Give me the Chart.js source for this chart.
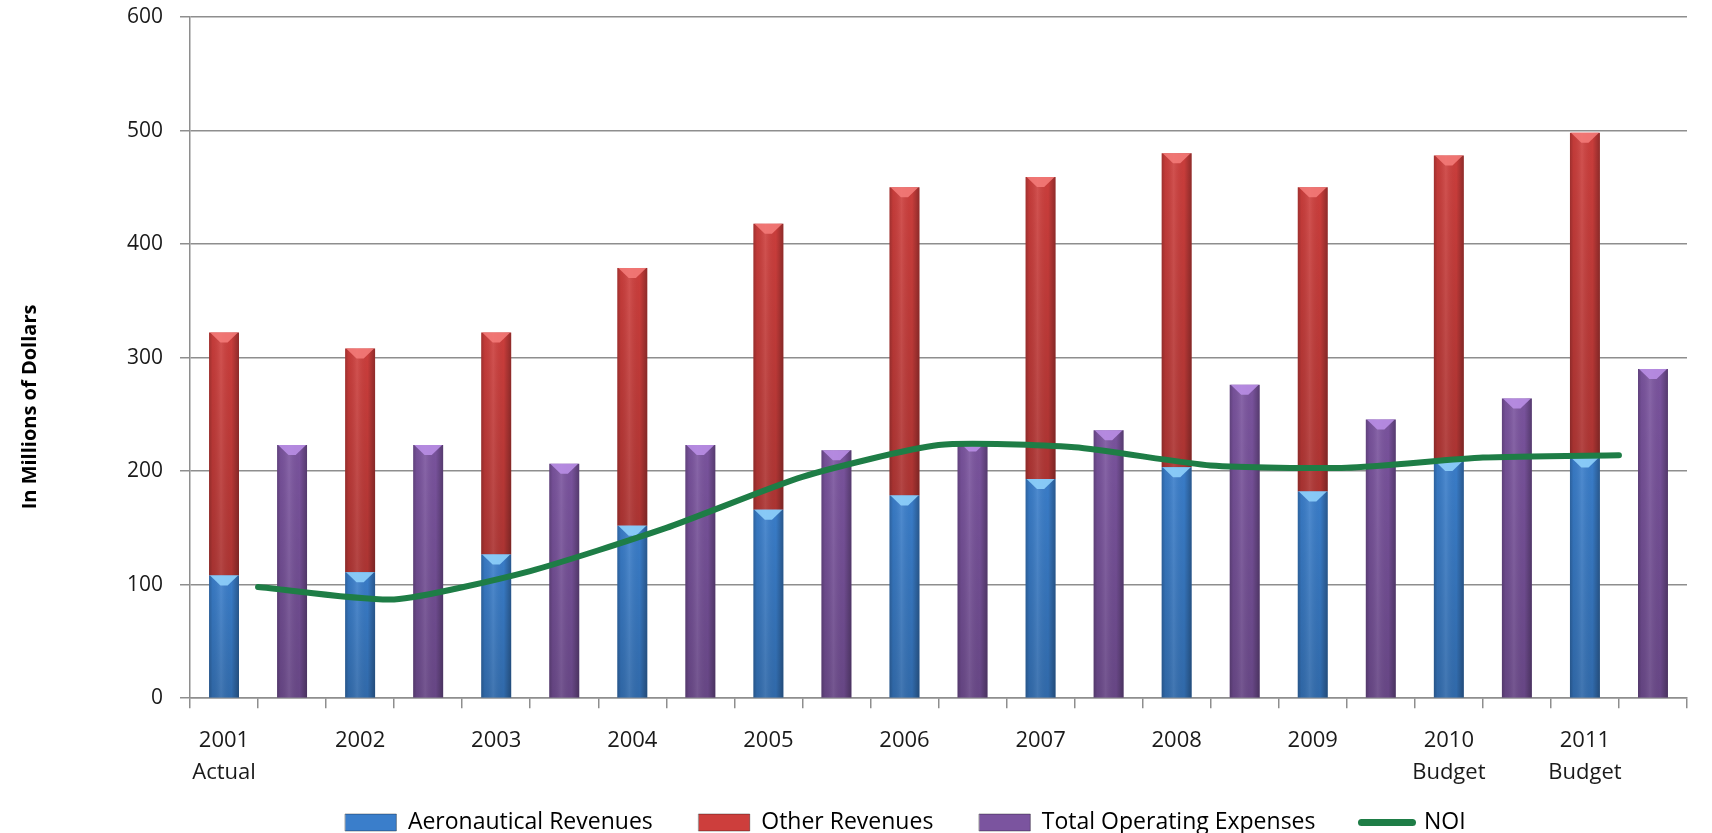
<!DOCTYPE html>
<html><head><meta charset="utf-8">
<script src="https://cdn.jsdelivr.net/npm/chart.js@4.4.0/dist/chart.umd.min.js"></script>
<style>html,body{margin:0;padding:0;background:#fff;} #wrap{width:1712px;height:833px;position:relative;}</style>
</head><body><div id="wrap"><canvas id="c" width="1712" height="833"></canvas></div>
<script>
const years = ['2001','2002','2003','2004','2005','2006','2007','2008','2009','2010','2011'];
const yearNotes = ['Actual','','','','','','','','','Budget','Budget'];
const aeronautical = [108,111,126.5,152,166,178.5,193,203.5,182,209,212];
const otherRevenues = [214,197,195.5,227,252,271.5,266,276.5,268,269,286];
const operatingExpenses = [223,223,206.5,223,218.5,226,236,276,245.5,264,290];
const noi = [98,87,112,150,195,223,221,205,203,212,214];
const yTicks = [0,100,200,300,400,500,600];
const seriesNames = ['Aeronautical Revenues','Other Revenues','Total Operating Expenses','NOI'];

// each year gets two slots: the revenue stack, then the expense bar
const labels = [];
const blueData = [], redData = [], purpleData = [];
years.forEach((y, i) => {
  labels.push(yearNotes[i] ? [y, yearNotes[i]] : [y]);
  labels.push('');
  blueData.push(aeronautical[i], null);
  redData.push(otherRevenues[i], null);
  purpleData.push(null, operatingExpenses[i]);
});
const noiData = noi.map((v, i) => ({x: 2 * i + 0.5, y: v}));

const FONT = '"Open Sans", Lato, sans-serif';
const COLORS = { blue: '#3a7ecb', red: '#cd3e3c', purple: '#7b549f', green: '#1e7d46' };
const HILITE = ['#8fd0fb', '#f37a78', '#b98ee6'];

const barShade = {
  id: 'barShade',
  afterDatasetDraw(chart, args) {
    const meta = args.meta;
    if (meta.type !== 'bar') return;
    const ctx = chart.ctx;
    const ds = chart.data.datasets[args.index];
    ctx.save();
    meta.data.forEach((el, i) => {
      const raw = ds.data[i];
      if (raw === null || raw === undefined) return;
      const p = el.getProps(['x', 'y', 'base', 'width'], true);
      const left = p.x - p.width / 2, right = p.x + p.width / 2;
      const top = Math.min(p.y, p.base), bot = Math.max(p.y, p.base);
      const g = ctx.createLinearGradient(left, 0, right, 0);
      g.addColorStop(0, 'rgba(0,0,0,0.22)');
      g.addColorStop(0.12, 'rgba(0,0,0,0.05)');
      g.addColorStop(0.4, 'rgba(255,255,255,0.10)');
      g.addColorStop(0.75, 'rgba(0,0,0,0.02)');
      g.addColorStop(1, 'rgba(0,0,0,0.30)');
      ctx.fillStyle = g;
      ctx.fillRect(left, top, p.width, bot - top);
      const v = ctx.createLinearGradient(0, top, 0, bot);
      v.addColorStop(0, 'rgba(0,0,0,0)');
      v.addColorStop(1, 'rgba(0,0,0,0.15)');
      ctx.fillStyle = v;
      ctx.fillRect(left, top, p.width, bot - top);
      ctx.beginPath();
      ctx.moveTo(left + 1, top);
      ctx.lineTo(right - 1, top);
      ctx.lineTo(p.x + p.width * 0.12, top + 10);
      ctx.lineTo(p.x - p.width * 0.12, top + 10);
      ctx.closePath();
      ctx.fillStyle = ds.hilite;
      ctx.globalAlpha = 0.9;
      ctx.fill();
      ctx.globalAlpha = 1;
    });
    ctx.restore();
  }
};

// nudge the legend so that it sits where the reference has it
const legendShift = {
  id: 'legendShift',
  afterLayout(chart) {
    const lg = chart.legend;
    if (!lg) return;
    lg.left += 58; lg.right += 58;
    lg.top -= 41;
    lg.bottom = chart.height;
    lg.height = lg.bottom - lg.top;
  }
};

const barBase = {
  type: 'bar', xAxisID: 'x', yAxisID: 'y', grouped: false,
  categoryPercentage: 1.0, barPercentage: 0.44, borderWidth: 0
};

new Chart(document.getElementById('c'), {
  data: {
    labels: labels,
    datasets: [
      { type: 'line', label: seriesNames[3], data: noiData, xAxisID: 'x2', yAxisID: 'y',
        borderColor: COLORS.green, backgroundColor: COLORS.green, borderWidth: 6,
        tension: 0.2, pointRadius: 0, borderCapStyle: 'round', borderJoinStyle: 'round', fill: false },
      Object.assign({}, barBase, { label: seriesNames[0], data: blueData, backgroundColor: COLORS.blue, hilite: HILITE[0] }),
      Object.assign({}, barBase, { label: seriesNames[1], data: redData, backgroundColor: COLORS.red, hilite: HILITE[1] }),
      Object.assign({}, barBase, { label: seriesNames[2], data: purpleData, backgroundColor: COLORS.purple, hilite: HILITE[2] })
    ]
  },
  options: {
    responsive: false,
    animation: false,
    layout: { autoPadding: false, padding: { left: 8, right: 25, top: 17, bottom: 2 } },
    plugins: {
      tooltip: { enabled: false },
      legend: {
        position: 'bottom',
        maxHeight: 25,
        labels: {
          font: { family: FONT, size: 23 },
          color: '#1a1a1a',
          usePointStyle: true,
          pointStyleWidth: 51,
          boxHeight: 17,
          padding: 46,
          sort: (a, b) => (a.datasetIndex === 0 ? 1 : 0) - (b.datasetIndex === 0 ? 1 : 0),
          generateLabels(chart) {
            return chart.data.datasets.map((ds, i) => {
              const isLine = ds.type === 'line';
              return {
                text: ds.label, datasetIndex: i,
                fillStyle: ds.backgroundColor,
                strokeStyle: isLine ? ds.borderColor : 'rgba(0,0,0,0.35)',
                lineWidth: isLine ? 7 : 1,
                lineCap: 'round',
                pointStyle: isLine ? 'line' : 'rect',
                hidden: false
              };
            });
          }
        }
      }
    },
    scales: {
      x: {
        type: 'category', stacked: true, offset: true,
        grid: { display: true, offset: true, drawOnChartArea: false, drawTicks: true, tickLength: 10, color: '#8e8e8e', lineWidth: 1.5 },
        border: { color: '#8e8e8e', width: 1.5 },
        ticks: { autoSkip: false, maxRotation: 0, minRotation: 0, padding: 17,
          font: { family: FONT, size: 22, lineHeight: 1.45 }, color: '#1a1a1a' }
      },
      x2: { type: 'linear', display: false, min: -0.5, max: 21.5 },
      y: {
        stacked: true, min: 0, max: 600,
        afterBuildTicks(scale) { scale.ticks = yTicks.map(v => ({ value: v })); },
        afterFit(scale) { scale.width = 182; scale.paddingTop = 0; scale.paddingBottom = 0; },
        grid: { color: '#8e8e8e', lineWidth: 1.5, tickLength: 10 },
        border: { color: '#8e8e8e', width: 1.5 },
        ticks: { font: { family: FONT, size: 21 }, color: '#1a1a1a', padding: 17 },
        title: { display: true,
          text: 'In Millions of Dollars' + '\u00a0'.repeat(19),
          font: { family: FONT, size: 20, weight: 'bold' }, color: '#000', padding: { top: 10, bottom: 0 } }
      }
    }
  },
  plugins: [barShade, legendShift]
});
</script></body></html>
